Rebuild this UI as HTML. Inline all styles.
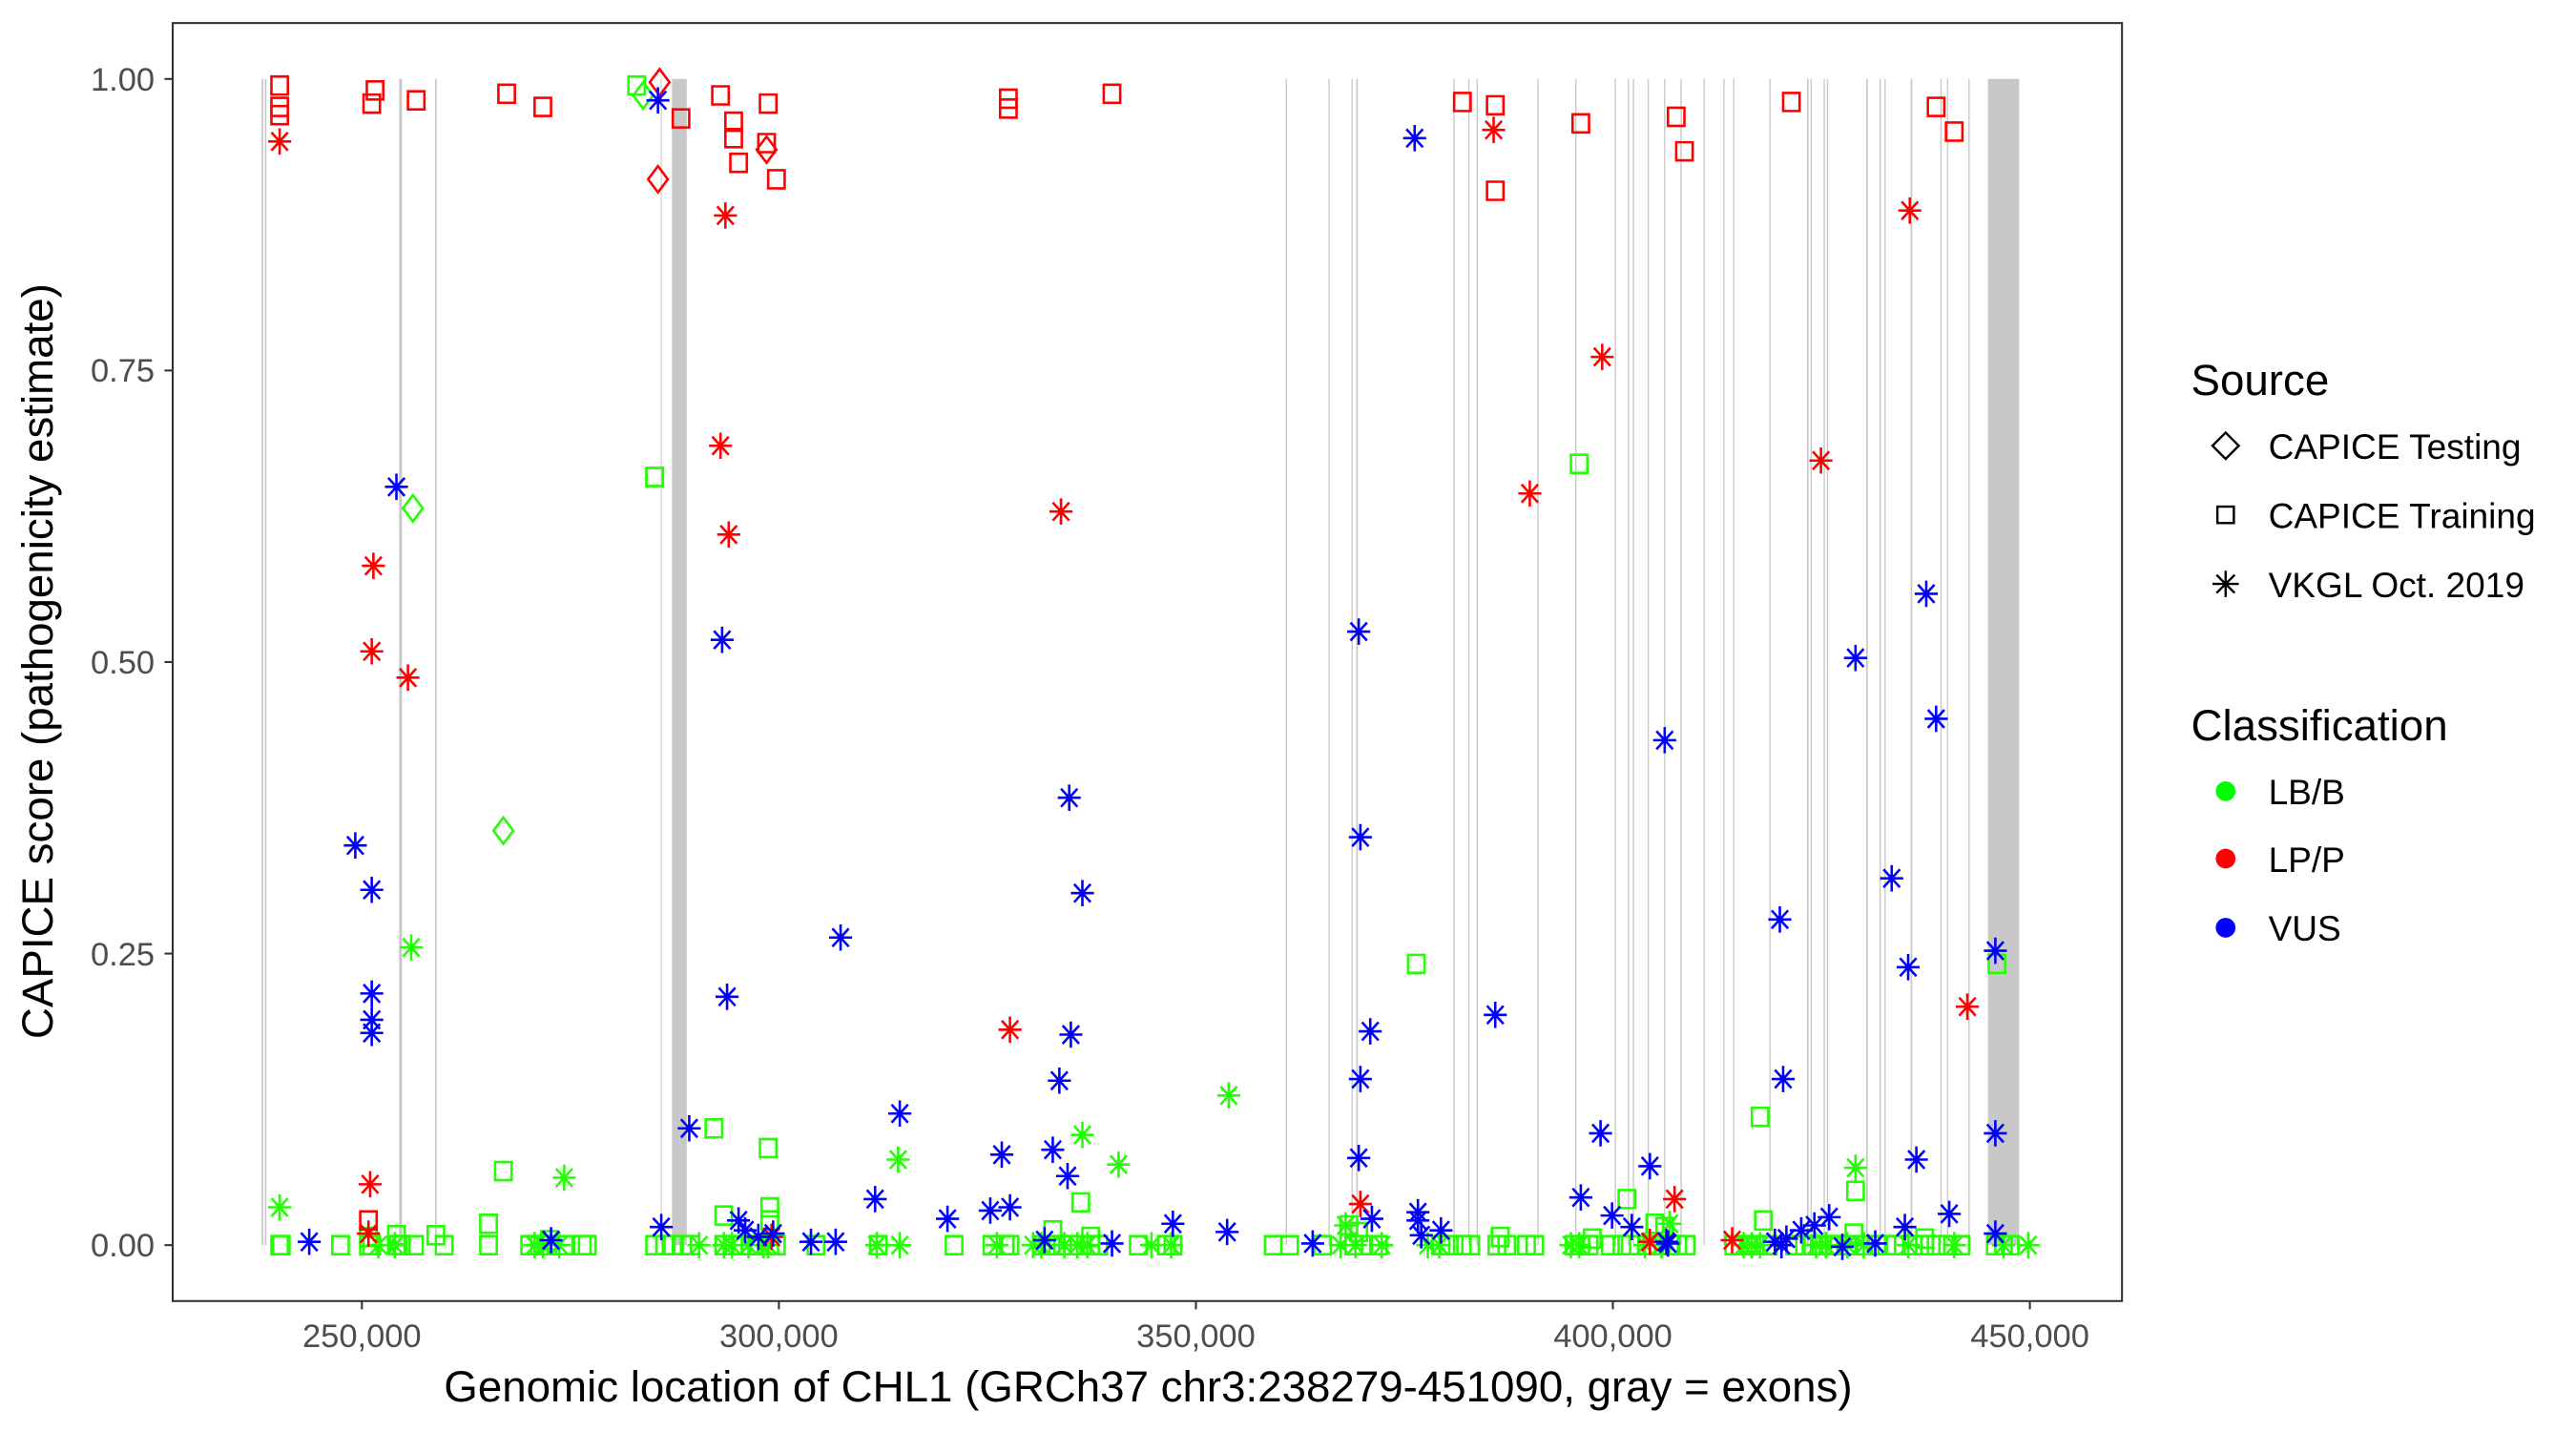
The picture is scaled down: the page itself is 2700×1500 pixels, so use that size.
<!DOCTYPE html>
<html><head><meta charset="utf-8"><style>html,body{margin:0;padding:0;background:#fff}svg{display:block}</style></head>
<body>
<svg id="s" width="2700" height="1500" viewBox="0 0 1566 870" xmlns="http://www.w3.org/2000/svg" font-family="Liberation Sans, sans-serif">
<rect width="1566" height="870" fill="#fff"/>
<g id="ex" fill="#c8c8c8"></g>
<g id="pts" fill="none" stroke-width="1.5"></g>
<rect x="105" y="14" width="1185" height="777" fill="none" stroke="#333" stroke-width="1.2"/>
<g stroke="#333" stroke-width="1.2">
<line x1="100" y1="48" x2="105" y2="48"/><line x1="100" y1="225.25" x2="105" y2="225.25"/><line x1="100" y1="402.5" x2="105" y2="402.5"/><line x1="100" y1="579.75" x2="105" y2="579.75"/><line x1="100" y1="757" x2="105" y2="757"/>
<line x1="220" y1="791" x2="220" y2="796"/><line x1="473.5" y1="791" x2="473.5" y2="796"/><line x1="727" y1="791" x2="727" y2="796"/><line x1="980.5" y1="791" x2="980.5" y2="796"/><line x1="1234" y1="791" x2="1234" y2="796"/>
</g>
<g fill="#4d4d4d" font-size="20" text-anchor="end">
<text x="94" y="55">1.00</text><text x="94" y="232">0.75</text><text x="94" y="409.5">0.50</text><text x="94" y="587">0.25</text><text x="94" y="764">0.00</text>
</g>
<g fill="#4d4d4d" font-size="20" text-anchor="middle">
<text x="220" y="819">250,000</text><text x="473.5" y="819">300,000</text><text x="727" y="819">350,000</text><text x="980.5" y="819">400,000</text><text x="1234" y="819">450,000</text>
</g>
<text x="698" y="852" font-size="26.5" text-anchor="middle">Genomic location of CHL1 (GRCh37 chr3:238279-451090, gray = exons)</text>
<text transform="translate(32,402) rotate(-90)" font-size="26.5" text-anchor="middle">CAPICE score (pathogenicity estimate)</text>
<text x="1332" y="240" font-size="26.5">Source</text>
<g stroke="#000" stroke-width="1.4" fill="none">
<path d="M1353,263 L1361,271 L1353,279 L1345,271 Z"/>
<rect x="1348" y="308" width="10" height="10"/>
<path d="M1353,347 V363 M1345,355 H1361 M1347.5,349.5 L1358.5,360.5 M1358.5,349.5 L1347.5,360.5"/>
</g>
<g font-size="21.5"><text x="1379" y="279">CAPICE Testing</text><text x="1379" y="321">CAPICE Training</text><text x="1379" y="363">VKGL Oct. 2019</text></g>
<text x="1332" y="450" font-size="26.5">Classification</text>
<circle cx="1353" cy="481" r="6" fill="#00ff00"/><circle cx="1353" cy="522" r="6" fill="#ff0000"/><circle cx="1353" cy="564" r="6" fill="#0000ff"/>
<g font-size="21.5"><text x="1379" y="489">LB/B</text><text x="1379" y="530">LP/P</text><text x="1379" y="572">VUS</text></g>
</svg>
<script>
var NS="http://www.w3.org/2000/svg";
var ex=document.getElementById('ex');
function rect(g,x,w){var r=document.createElementNS(NS,'rect');r.setAttribute('x',x);r.setAttribute('y',48);r.setAttribute('width',w);r.setAttribute('height',709);g.appendChild(r);}
[[159.5,1],[161.5,1],[243.5,1.8],[265,1],[402,0.6],[413,9],[782,0.8],[808,0.8],[822,0.8],[825,1],[884,0.8],[893,0.8],[898,0.8],[935,0.8],[958,0.8],[982,0.8],[990,0.8],[993,0.8],[1002,0.8],[1012,0.8],[1022,0.8],[1036,0.8],[1048,0.8],[1054,0.8],[1076,0.8],[1099,1],[1101,0.8],[1109,0.8],[1111,0.8],[1135,1],[1143,0.8],[1146,0.8],[1162,1],[1180,0.8],[1184,0.8],[1197,0.8],[1218,19]].forEach(function(e){rect(ex,e[0]-e[1]/2,e[1]);});
var g=document.getElementById('pts');
var C={g:'#22ff00',r:'#ff0000',b:'#0000ff'};
function add(t,c,x,y){var p=document.createElementNS(NS,'path');var d;
if(t=='s')d='M'+(x-5)+','+(y-5.5)+'h10v11h-10z';
else if(t=='d')d='M'+x+','+(y-8)+'L'+(x+6)+','+y+'L'+x+','+(y+8)+'L'+(x-6)+','+y+'Z';
else d='M'+x+','+(y-8)+'V'+(y+8)+'M'+(x-7)+','+y+'H'+(x+7)+'M'+(x-5)+','+(y-5.5)+'L'+(x+5)+','+(y+5.5)+'M'+(x+5)+','+(y-5.5)+'L'+(x-5)+','+(y+5.5);
p.setAttribute('d',d);p.setAttribute('stroke',C[c]);g.appendChild(p);}
[170,171,207,224,226,241,242,244,252,270,297,322,328,333,343,354,357,398,404,409,415,420,440,446,451,456,461,468,472,496,534,580,603,611,614,633,639,646,652,663,668,692,709,713,774,784,804,823,829,838,876,881,889,894,910,916,928,933,957,961,966,979,986,991,1001,1004,1016,1020,1025,1054,1063,1067,1075,1091,1097,1102,1106,1112,1118,1124,1133,1141,1147,1152,1163,1170,1177,1184,1192,1213,1218,1222].forEach(function(x){add('s','g',x,757);});
[[224,752],[241,751],[265,751],[297,744],[334,754],[640,748],[663,752],[826,749],[820,745],[912,752],[968,753],[1012,746],[1006,744],[1127,750],[1170,753],[306,712],[434,686],[467,698],[468,734],[468,742],[440,739],[657,731],[861,586],[960,282],[1070,679],[1214,586],[1128,724],[989,729],[1072,742],[398,290],[387,52],[398,290]].forEach(function(p){add('s','g',p[0],p[1]);});
[230,240,325,330,340,425,440,445,455,464,467,533,547,606,628,633,647,655,661,700,712,815,824,840,868,875,955,960,1000,1010,1060,1065,1070,1104,1110,1123,1133,1160,1188,1218,1233].forEach(function(x){add('a','g',x,757);});
[[170,734],[250,576],[343,716],[546,705],[658,690],[680,708],[747,666],[1128,710],[818,745],[1015,744]].forEach(function(p){add('a','g',p[0],p[1]);});
add('d','g',391,58);add('d','g',306,505);add('d','g',251,309);
[[170,52],[170,65],[170,70],[228,55],[226,63],[253,61],[308,57],[330,65],[414,72],[438,58],[446,74],[446,84],[449,99],[467,63],[466,87],[472,109],[613,60],[613,66],[676,57],[889,62],[909,64],[909,116],[961,75],[1019,71],[1024,92],[1089,62],[1177,65],[1188,80],[224,742]].forEach(function(p){add('s','r',p[0],p[1]);});
[[170,86],[441,131],[438,271],[443,325],[227,344],[226,396],[248,412],[225,720],[224,750],[614,626],[645,311],[908,79],[974,217],[930,300],[827,732],[1018,729],[1053,754],[1003,755],[1107,280],[1161,128],[1196,612],[469,752]].forEach(function(p){add('a','r',p[0],p[1]);});
add('d','r',400,109);add('d','r',466,91);add('d','r',401,50);
[[400,61],[241,296],[216,514],[226,541],[226,604],[226,620],[226,628],[188,755],[439,389],[442,606],[419,686],[402,746],[449,742],[461,752],[470,750],[493,755],[508,755],[511,570],[532,729],[547,677],[576,741],[602,736],[609,702],[614,734],[640,699],[644,657],[649,715],[650,485],[651,629],[658,543],[635,754],[676,756],[713,744],[746,749],[798,756],[826,384],[827,509],[827,656],[826,704],[833,627],[834,741],[860,84],[862,742],[862,737],[864,751],[876,748],[909,617],[961,728],[973,689],[980,739],[992,746],[1003,709],[1012,450],[1013,755],[1014,756],[1082,559],[1084,656],[1079,755],[1086,753],[1095,748],[1103,745],[1112,740],[1120,758],[1128,400],[1140,756],[1150,534],[1158,746],[1160,588],[1165,705],[1171,361],[1177,437],[1185,738],[1213,578],[1213,689],[1213,750],[335,754],[453,748],[1083,757]].forEach(function(p){add('a','b',p[0],p[1]);});
</script>
</body></html>
